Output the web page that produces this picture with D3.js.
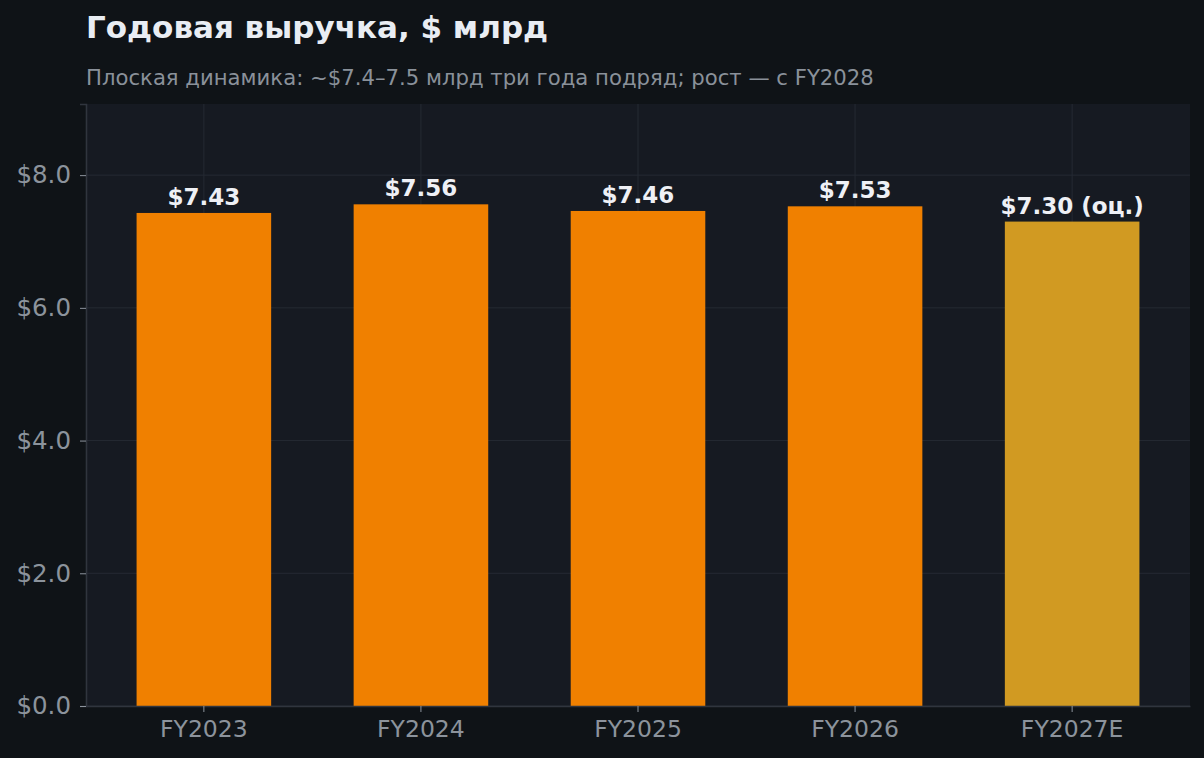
<!DOCTYPE html>
<html>
<head>
<meta charset="utf-8">
<script src="https://cdn.jsdelivr.net/npm/d3@7"></script>
<style>
  body { margin: 0; background: #0f1317; }
  svg { display: block; }
  text { font-family: "DejaVu Sans", sans-serif; }
</style>
</head>
<body>
<script>
// данные
var years = ["FY2023", "FY2024", "FY2025", "FY2026", "FY2027E"];
var revenue = [7.43, 7.56, 7.46, 7.53, 7.30];
var labels = ["$7.43", "$7.56", "$7.46", "$7.53", "$7.30 (оц.)"];
var isEstimate = [false, false, false, false, true];
var yTicks = [0, 2, 4, 6, 8];

var W = 1204, H = 758;
var margin = { top: 104, right: 14, bottom: 52, left: 86 },
    width = W - margin.left - margin.right,
    height = H - margin.top - margin.bottom;

var svg = d3.select("body").append("svg")
    .attr("width", W)
    .attr("height", H);

svg.append("rect")
    .attr("width", W).attr("height", H)
    .attr("fill", "#0f1317");

svg.append("text")
    .attr("x", 86).attr("y", 38)
    .attr("font-size", "31px")
    .attr("font-weight", "bold")
    .style("fill", "#e9edf3")
    .text("Годовая выручка, $ млрд");

svg.append("text")
    .attr("x", 86).attr("y", 85)
    .attr("font-size", "21.2px")
    .style("fill", "#8a919a")
    .text("Плоская динамика: ~$7.4–7.5 млрд три года подряд; рост — с FY2028");

var g = svg.append("g")
    .attr("transform", "translate(" + margin.left + "," + margin.top + ")");

var x = d3.scaleBand()
    .domain(years)
    .range([0, width])
    .paddingInner(0.38)
    .paddingOuter(0.233);

var y = d3.scaleLinear()
    .domain([0, d3.max(revenue) * 1.2])
    .range([height, 0]);

g.append("rect")
    .attr("width", width).attr("height", height)
    .attr("fill", "#161a22");

// сетка
g.selectAll(".hgrid")
    .data(yTicks)
    .enter().append("line")
    .attr("x1", 0).attr("x2", width)
    .attr("y1", function(d) { return y(d); })
    .attr("y2", function(d) { return y(d); })
    .attr("stroke", "#252a33")
    .attr("stroke-width", 1);

g.selectAll(".vgrid")
    .data(years)
    .enter().append("line")
    .attr("x1", function(d) { return x(d) + x.bandwidth() / 2; })
    .attr("x2", function(d) { return x(d) + x.bandwidth() / 2; })
    .attr("y1", 0).attr("y2", height)
    .attr("stroke", "#252a33")
    .attr("stroke-width", 1);

var data = years.map(function(d, i) {
    return { year: d, value: revenue[i], label: labels[i], est: isEstimate[i] };
});

g.selectAll(".bar")
    .data(data)
    .enter().append("rect")
    .attr("x", function(d) { return x(d.year); })
    .attr("width", x.bandwidth())
    .attr("y", function(d) { return y(d.value); })
    .attr("height", function(d) { return height - y(d.value); })
    .attr("fill", function(d) { return d.est ? "#d19a22" : "#f08000"; });

g.selectAll(".val")
    .data(data)
    .enter().append("text")
    .attr("x", function(d) { return x(d.year) + x.bandwidth() / 2; })
    .attr("y", function(d) { return y(d.value) - 8; })
    .attr("text-anchor", "middle")
    .attr("font-size", "23px")
    .attr("font-weight", "bold")
    .style("fill", "#eef0f5")
    .text(function(d) { return d.label; });

// оси
var yAxis = g.append("g")
    .call(d3.axisLeft(y).tickValues(yTicks).tickSize(6).tickPadding(9)
        .tickFormat(function(d) { return "$" + d3.format(".1f")(d); }));
yAxis.select(".domain").attr("stroke", "#30353e").attr("stroke-width", 1.6);
yAxis.selectAll(".tick line").attr("stroke", "#8c939c");
yAxis.selectAll(".tick text")
    .attr("font-size", "24.5px")
    .attr("font-family", "DejaVu Sans")
    .style("fill", "#8c939c");

var xAxis = g.append("g")
    .attr("transform", "translate(0," + height + ")")
    .call(d3.axisBottom(x).tickSize(6).tickPadding(8).tickSizeOuter(0));
xAxis.select(".domain").attr("stroke", "#30353e").attr("stroke-width", 1.6);
xAxis.selectAll(".tick line").attr("stroke", "#8c939c");
xAxis.selectAll(".tick text")
    .attr("font-size", "23.5px")
    .attr("font-family", "DejaVu Sans")
    .style("fill", "#8c939c");
</script>
</body>
</html>
